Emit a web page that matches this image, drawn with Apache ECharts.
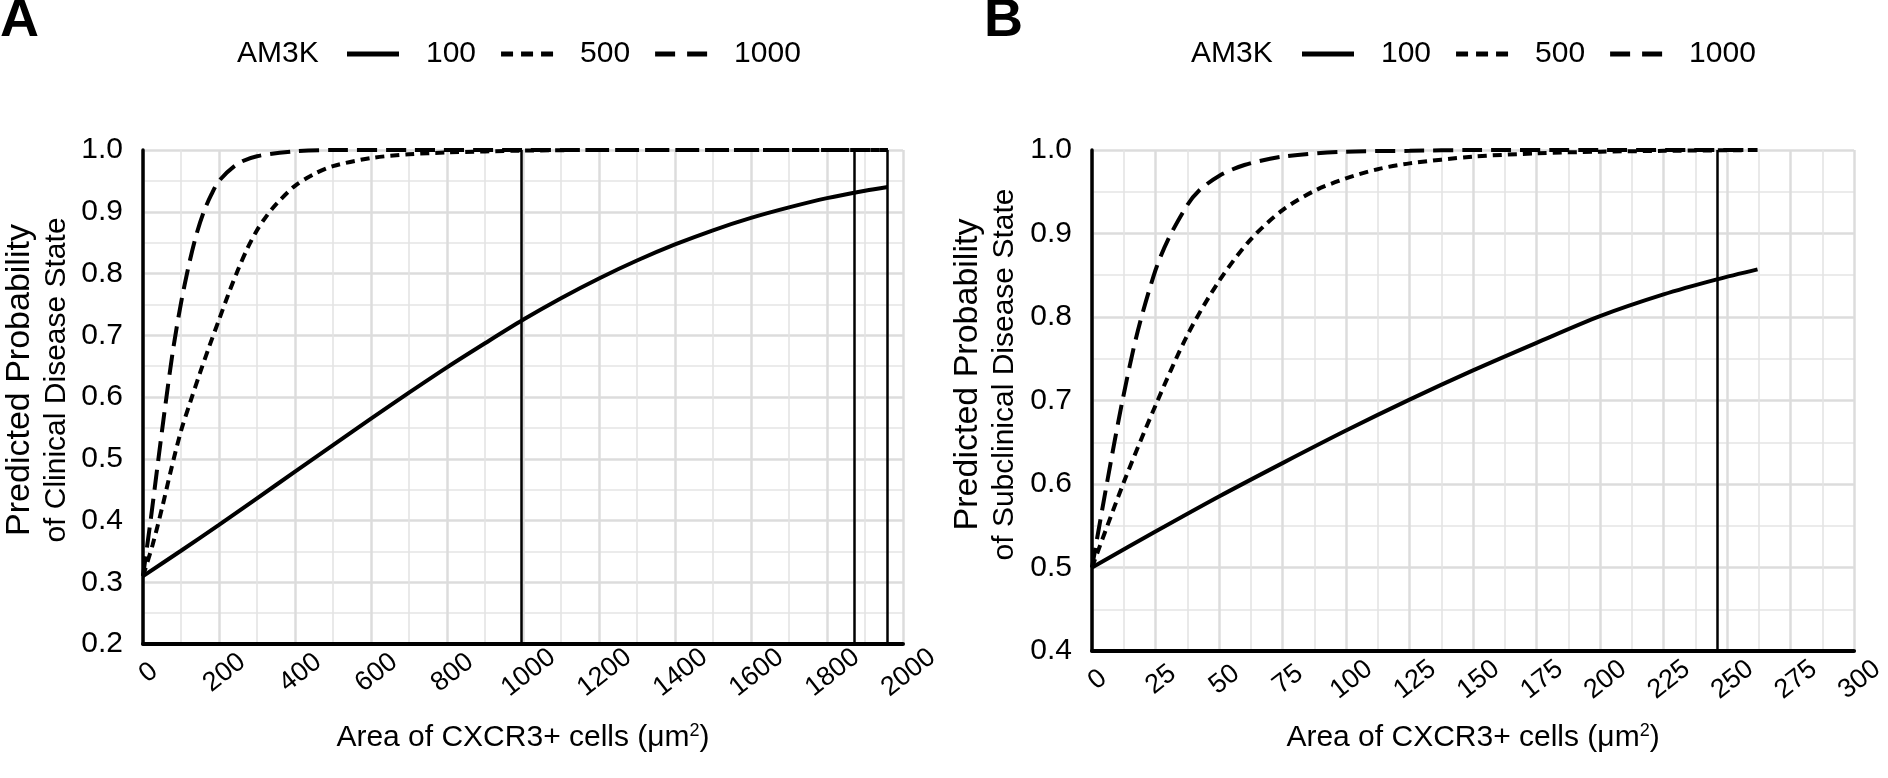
<!DOCTYPE html>
<html><head><meta charset="utf-8">
<script src="https://cdn.jsdelivr.net/npm/echarts@6/dist/echarts.min.js"></script>
<style>html,body{margin:0;padding:0;background:#fff}#c{width:1888px;height:778px}</style>
</head><body><div id="c"></div>
<script>
const FONT = '"Liberation Sans", Arial, sans-serif';
const legendTitle = 'AM3K';
const seriesNames = ['100', '500', '1000'];

// Panel A: clinical disease state
const aX100 = [0,100,200,300,400,500,600,700,800,900,1000,1100,1200,1300,1400,1500,1600,1700,1800,1900,1960];
const aY100 = [0.31,0.351,0.393,0.436,0.479,0.522,0.565,0.607,0.648,0.687,0.725,0.76,0.792,0.821,0.847,0.87,0.89,0.907,0.922,0.934,0.94];
const aX500 = [0,25,50,75,100,125,150,175,200,225,250,275,300,325,350,400,450,500,600,700,800,1000,1200,1500,1960];
const aY500 = [0.31,0.36,0.42,0.485,0.545,0.593,0.639,0.683,0.725,0.767,0.806,0.841,0.87,0.893,0.912,0.942,0.961,0.974,0.987,0.993,0.996,0.999,1,1,1];
const aX1000 = [0,20,40,60,80,100,120,140,160,180,200,250,300,400,500,700,1000,1500,1960];
const aY1000 = [0.31,0.40,0.497,0.592,0.68,0.752,0.812,0.862,0.9,0.928,0.95,0.978,0.99,0.998,1,1,1,1,1];
const aRefLines = [995, 1872, 1958];

// Panel B: subclinical disease state
const bX100 = [0,25,50,75,100,125,150,175,200,225,246,262];
const bY100 = [0.5,0.543,0.585,0.625,0.664,0.701,0.736,0.769,0.801,0.827,0.845,0.857];
const bX500 = [0,12.5,25,37.5,50,62.5,75,87.5,100,112.5,125,150,175,200,225,262];
const bY500 = [0.5,0.602,0.694,0.778,0.843,0.893,0.928,0.951,0.966,0.977,0.984,0.992,0.996,0.998,0.999,1];
const bX1000 = [0,6,12,18,25,30,37.5,42,50,60,75,100,125,150,200,262];
const bY1000 = [0.5,0.603,0.7,0.783,0.856,0.893,0.934,0.951,0.969,0.982,0.992,0.998,0.999,1,1,1];
const bRefLines = [246];

const zip = (xs, ys) => xs.map((x, i) => [x, ys[i]]);
const dashTypes = ['solid', [9, 6], [20, 9]];
const legendIcons = [
  'path://M0,0H52V5H0Z',
  'path://M0,0H12V5H0Z M20,0H32V5H20Z M40,0H52V5H40Z',
  'path://M0,0H20V5H0Z M32,0H52V5H32Z'
];

function lineSeries(name, idx, xs, ys, typeIdx, refs) {
  const s = {
    name, type: 'line', xAxisIndex: idx, yAxisIndex: idx,
    data: zip(xs, ys), smooth: 0.3, showSymbol: false, symbol: 'none',
    lineStyle: { color: '#000', width: 4, type: dashTypes[typeIdx] },
    itemStyle: { color: '#000' }, z: 3
  };
  if (refs) {
    s.markLine = {
      silent: true, symbol: ['none', 'none'], label: { show: false },
      lineStyle: { color: '#000', width: 2.5, type: 'solid' },
      data: refs.map(v => ({ xAxis: v }))
    };
  }
  return s;
}

const gridLine = { show: true, lineStyle: { color: '#dcdcdc', width: 2.5 } };
const minorLine = { show: true, lineStyle: { color: '#e4e4e4', width: 1.6 } };

function xAxis(idx, max, interval, nameGap, margin) {
  return {
    type: 'value', gridIndex: idx, min: 0, max, interval,
    name: 'Area of CXCR3+ cells (μm{sup|2})', nameLocation: 'middle', nameGap,
    nameTextStyle: { fontFamily: FONT, fontSize: 30, color: '#000',
      rich: { sup: { fontSize: 18, verticalAlign: 'top', padding: [0, 0, 14, 0], fontFamily: FONT, color: '#000' } } },
    axisLine: { show: true, onZero: false, lineStyle: { color: '#000', width: 4 } },
    axisTick: { show: false },
    axisLabel: { fontFamily: FONT, fontSize: 27, color: '#000', rotate: 38, align: 'center', verticalAlign: 'middle',
      margin, padding: [0, 0, 0, 14], formatter: v => String(v) },
    splitLine: gridLine, minorTick: { show: false, splitNumber: 2 }, minorSplitLine: minorLine
  };
}
function yAxis(idx, min, line1, line2, nameGap, shift) {
  return {
    type: 'value', gridIndex: idx, min, max: 1.0, interval: 0.1,
    name: '{a|' + line1 + '}\n{b|' + line2 + '}', nameLocation: 'middle', nameGap, nameRotate: 90,
    nameTextStyle: { fontFamily: FONT, color: '#000', lineHeight: 37, padding: [0, 0, 0, shift],
      rich: { a: { fontFamily: FONT, fontSize: 34, color: '#000', lineHeight: 37 },
              b: { fontFamily: FONT, fontSize: 30, color: '#000', lineHeight: 37 } } },
    axisLine: { show: true, onZero: false, lineStyle: { color: '#000', width: 3.5 } },
    axisTick: { show: false },
    axisLabel: { fontFamily: FONT, fontSize: 30, color: '#000', margin: 20, formatter: v => v.toFixed(1) },
    splitLine: gridLine, minorTick: { show: false, splitNumber: 2 }, minorSplitLine: minorLine
  };
}

function legend(left) {
  return {
    left, top: 39, padding: 0, orient: 'horizontal', itemWidth: 52, itemHeight: 5, itemGap: 25,
    data: seriesNames.map((n, i) => ({ name: n, icon: legendIcons[i] })), selectedMode: false,
    textStyle: { fontFamily: FONT, fontSize: 30, color: '#000', padding: [0, 0, 0, 22] }
  };
}

const option = {
  animation: false,
  backgroundColor: '#fff',
  title: [
    { text: 'A', left: 0, top: -6, padding: 0, textStyle: { fontFamily: FONT, fontSize: 54, fontWeight: 'bold', color: '#000' } },
    { text: 'B', left: 984, top: -6, padding: 0, textStyle: { fontFamily: FONT, fontSize: 54, fontWeight: 'bold', color: '#000' } },
    { text: legendTitle, left: 237, top: 39, padding: 0, textStyle: { fontFamily: FONT, fontSize: 30, fontWeight: 'normal', color: '#000' } },
    { text: legendTitle, left: 1191, top: 39, padding: 0, textStyle: { fontFamily: FONT, fontSize: 30, fontWeight: 'normal', color: '#000' } }
  ],
  legend: [legend(347), legend(1302)],
  grid: [
    { left: 138, right: 985, top: 150, bottom: 134, containLabel: false },
    { left: 1092, right: 31, top: 150, bottom: 127, containLabel: false }
  ],
  xAxis: [xAxis(0, 2000, 200, 78, 33), xAxis(1, 300, 25, 71, 33)],
  yAxis: [
    yAxis(0, 0.2, 'Predicted Probability', 'of Clinical Disease State', 68, 34),
    yAxis(1, 0.4, 'Predicted Probability', 'of Subclinical Disease State', 69, 52)
  ],
  series: [
    lineSeries(seriesNames[0], 0, aX100, aY100, 0, aRefLines),
    lineSeries(seriesNames[1], 0, aX500, aY500, 1),
    lineSeries(seriesNames[2], 0, aX1000, aY1000, 2),
    lineSeries(seriesNames[0], 1, bX100, bY100, 0, bRefLines),
    lineSeries(seriesNames[1], 1, bX500, bY500, 1),
    lineSeries(seriesNames[2], 1, bX1000, bY1000, 2)
  ]
};
const chart = echarts.init(document.getElementById('c'), null, { renderer: 'canvas' });
chart.setOption(option);
</script></body></html>
